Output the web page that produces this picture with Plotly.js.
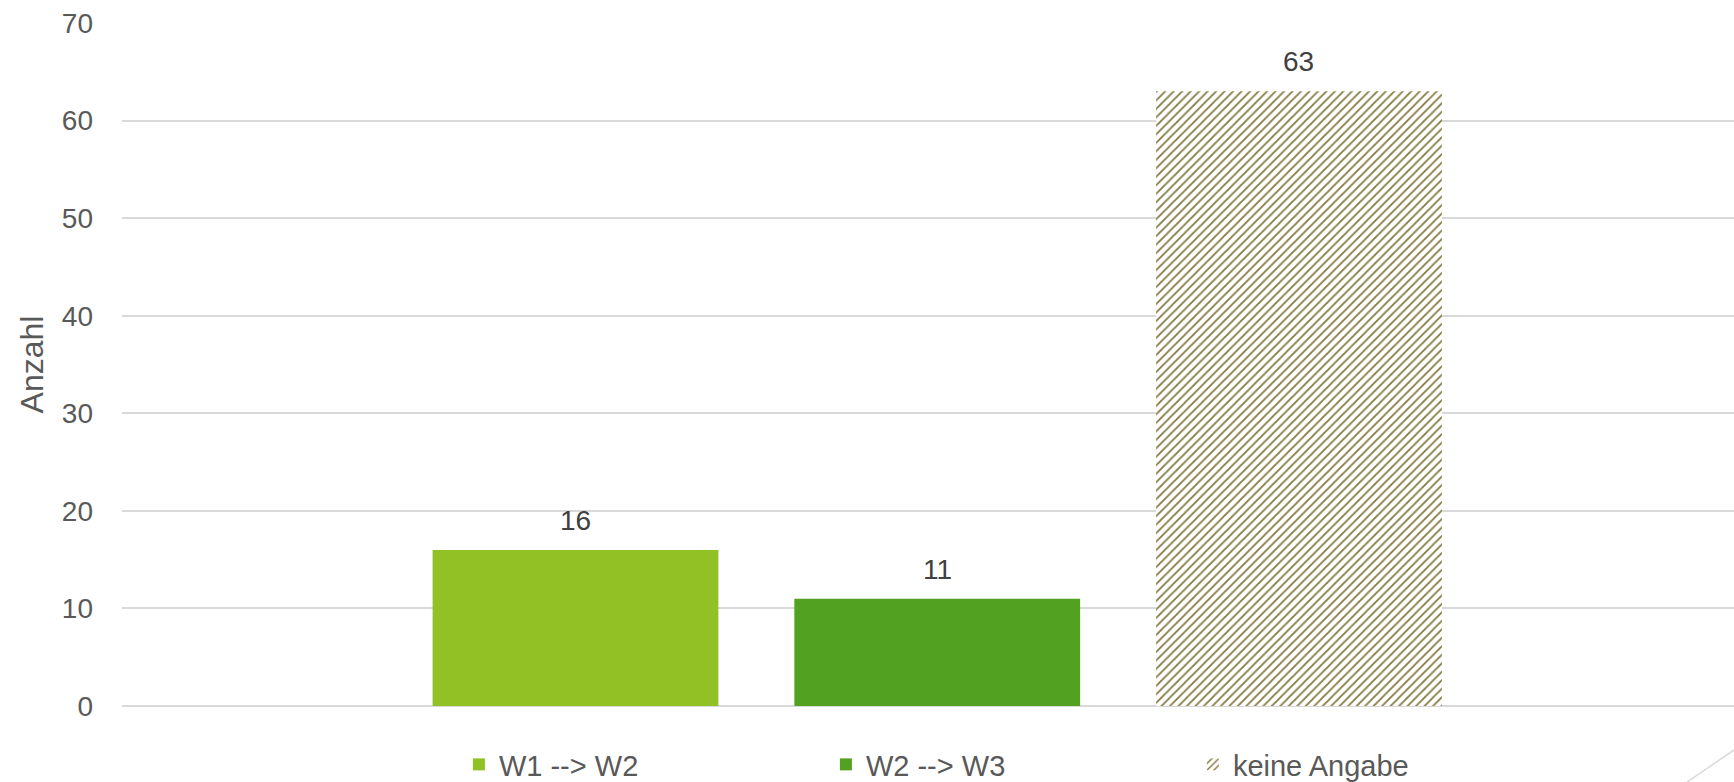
<!DOCTYPE html>
<html>
<head>
<meta charset="utf-8">
<script src="https://cdn.plot.ly/plotly-3.0.1.min.js"></script>
<style>html,body{margin:0;padding:0;background:#fff;}#chart{width:1734px;height:782px;}</style>
</head>
<body>
<div id="chart"></div>
<script>
// Data
var categories = ["W1 --> W2", "W2 --> W3", "keine Angabe"];
var values = [16, 11, 63];
var yTicks = [0, 10, 20, 30, 40, 50, 60, 70];
var yTitle = "Anzahl";

var colors = ["#92C125", "#53A121", "#ffffff"];
var FONT = "Liberation Sans, Arial, sans-serif";

var traces = categories.map(function (c, i) {
  var marker = { color: colors[i], line: { width: 0 } };
  if (i === 2) {
    marker.pattern = { shape: "/", fgcolor: "#857A42", bgcolor: "#ffffff", size: 6, solidity: 0.3 };
  }
  return {
    type: "bar",
    name: c,
    x: [c],
    y: [values[i]],
    width: 0.79,
    marker: marker,
    hoverinfo: "skip"
  };
});

var annotations = categories.map(function (c, i) {
  return {
    x: c, y: values[i], xref: "x", yref: "y",
    text: String(values[i]), showarrow: false,
    yanchor: "bottom", yshift: 12,
    font: { family: FONT, size: 28, color: "#404040" }
  };
});

var layout = {
  width: 1734,
  height: 782,
  margin: { l: 122, r: 0, t: 23, b: 76, autoexpand: false },
  paper_bgcolor: "#ffffff",
  plot_bgcolor: "#ffffff",
  barmode: "overlay",
  showlegend: true,
  font: { family: FONT, color: "#595959" },
  xaxis: {
    type: "category",
    categoryorder: "array",
    categoryarray: categories,
    range: [-1.2536, 3.2025],
    showticklabels: false,
    showgrid: false,
    zeroline: false,
    showline: false,
    ticks: ""
  },
  yaxis: {
    range: [0, 70],
    tickvals: yTicks,
    ticktext: yTicks.map(String),
    showgrid: true,
    gridcolor: "#D9D9D9",
    gridwidth: 2,
    zeroline: true,
    zerolinecolor: "#D9D9D9",
    zerolinewidth: 2,
    showline: false,
    ticks: "",
    ticklabelstandoff: 28,
    automargin: false,
    tickfont: { family: FONT, size: 28, color: "#595959" },
    title: { text: yTitle, font: { family: FONT, size: 32, color: "#595959" }, standoff: 8 }
  },
  legend: {
    orientation: "h",
    x: 0.209,
    xanchor: "left",
    y: -0.0857,
    yanchor: "middle",
    entrywidth: 322,
    font: { family: FONT, size: 29, color: "#595959" },
    bgcolor: "rgba(0,0,0,0)",
    traceorder: "normal"
  },
  annotations: annotations,
  shapes: [{
    type: "line", xref: "paper", yref: "paper",
    x0: 0.9709, y0: -0.1113, x1: 1.0, y1: -0.0644,
    line: { color: "#D9D9D9", width: 1.5 }
  }]
};

Plotly.newPlot("chart", traces, layout, { staticPlot: true, displayModeBar: false });
</script>
</body>
</html>
